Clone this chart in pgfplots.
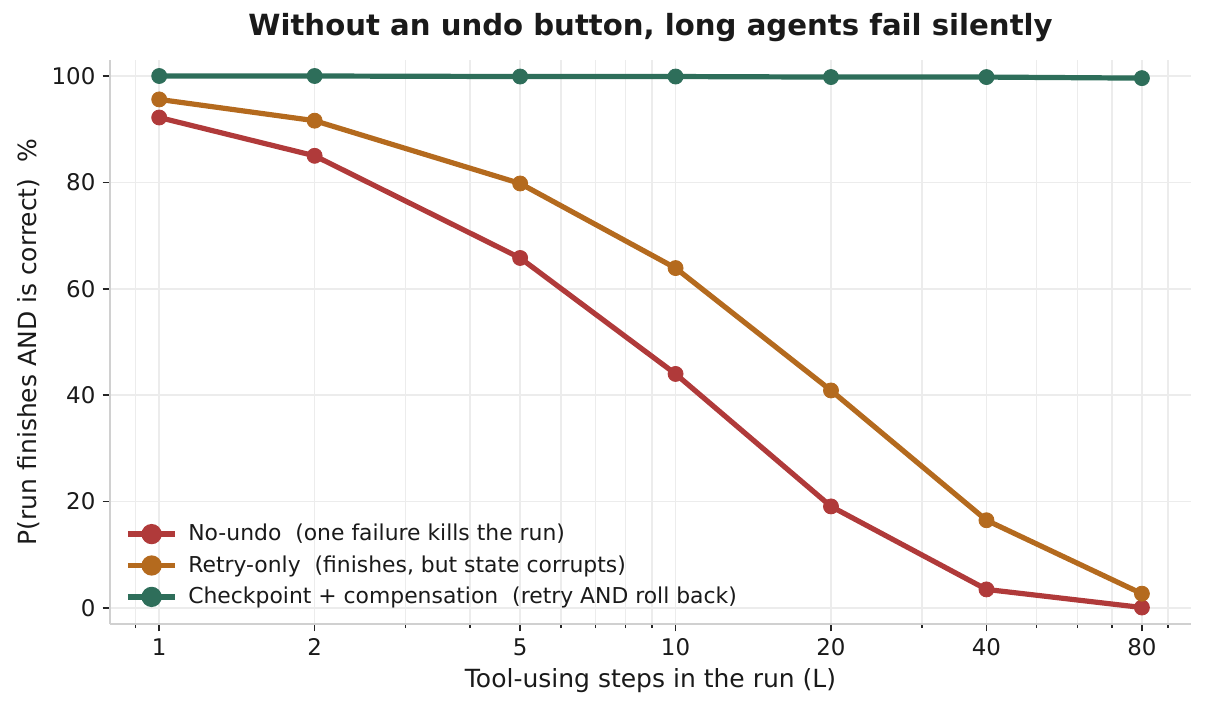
\documentclass[border=0pt]{standalone}
\usepackage{fontspec}
\setmainfont{DejaVu Sans}
\usepackage{pgfplots}
\pgfplotsset{compat=1.18}
\definecolor{cred}{RGB}{176,58,58}
\definecolor{corange}{RGB}{180,106,30}
\definecolor{cgreen}{RGB}{46,110,90}
\definecolor{spine}{RGB}{208,208,208}
\definecolor{gridc}{RGB}{236,236,236}
\definecolor{txt}{RGB}{26,26,26}
\begin{document}
\begin{tikzpicture}
\path[use as bounding box] (0,0) rectangle (578.88pt,340.8pt);
\begin{axis}[
  at={(52.8pt,41.28pt)}, anchor=south west,
  scale only axis, width=518.9pt, height=270.7pt,
  xmode=log, xmin=0.803, xmax=99.6, ymin=-3, ymax=103,
  xtick={1,2,5,10,20,40,80}, xticklabels={1,2,5,10,20,40,80},
  minor xtick={0.9,3,4,6,7,8,9,30,50,60,70,90},
  ytick={0,20,40,60,80,100},
  grid=both,
  major grid style={draw=gridc, line width=0.8pt},
  minor grid style={draw=gridc, line width=0.8pt},
  axis x line*=bottom, axis y line*=left,
  axis line style={draw=spine, line width=1pt, -},
  tick align=outside,
  major tick length=3.5pt, minor tick length=2pt,
  every tick/.style={draw=black!85, line width=0.8pt},
  tick label style={font=\fontsize{11}{13}\selectfont, text=txt},
  /pgf/number format/assume math mode=true,
  xlabel={Tool-using steps in the run (L)},
  ylabel={P(run finishes AND is correct)\ \ \%},
  label style={font=\fontsize{12}{14}\selectfont, text=txt},
  xlabel style={yshift=1pt},
  ylabel style={yshift=-1pt},
  title={\textbf{Without an undo button, long agents fail silently}},
  title style={font=\fontsize{14}{16}\selectfont, text=txt, yshift=-1pt},
  legend style={draw=none, fill=none, at={(0.008,0.015)}, anchor=south west,
    font=\fontsize{10.5}{12}\selectfont, row sep=1.6pt, text=txt,
    nodes={inner xsep=5pt}},
  legend cell align=left,
  legend image code/.code={
    \draw[#1, line width=2.5pt] (0cm,0cm) -- (0.8cm,0cm);
    \fill[#1] (0.4cm,0cm) circle (3.6pt);
  },
  every axis plot/.append style={line width=2.5pt},
  clip=false,
]
\addplot[cred, mark=*, mark size=3.6pt, mark options={fill=cred, draw=cred, line width=0.4pt}] coordinates {
 (1,92.2) (2,85.0) (5,65.8) (10,44.0) (20,19.1) (40,3.5) (80,0.1)};
\addlegendentry{No-undo\ \ (one failure kills the run)}
\addplot[corange, mark=*, mark size=3.6pt, mark options={fill=corange, draw=corange, line width=0.4pt}] coordinates {
 (1,95.6) (2,91.6) (5,79.8) (10,63.9) (20,40.9) (40,16.5) (80,2.7)};
\addlegendentry{Retry-only\ \ (finishes, but state corrupts)}
\addplot[cgreen, mark=*, mark size=3.6pt, mark options={fill=cgreen, draw=cgreen, line width=0.4pt}] coordinates {
 (1,100) (2,100) (5,99.9) (10,99.9) (20,99.8) (40,99.8) (80,99.6)};
\addlegendentry{Checkpoint + compensation\ \ (retry AND roll back)}
\end{axis}
\end{tikzpicture}
\end{document}
